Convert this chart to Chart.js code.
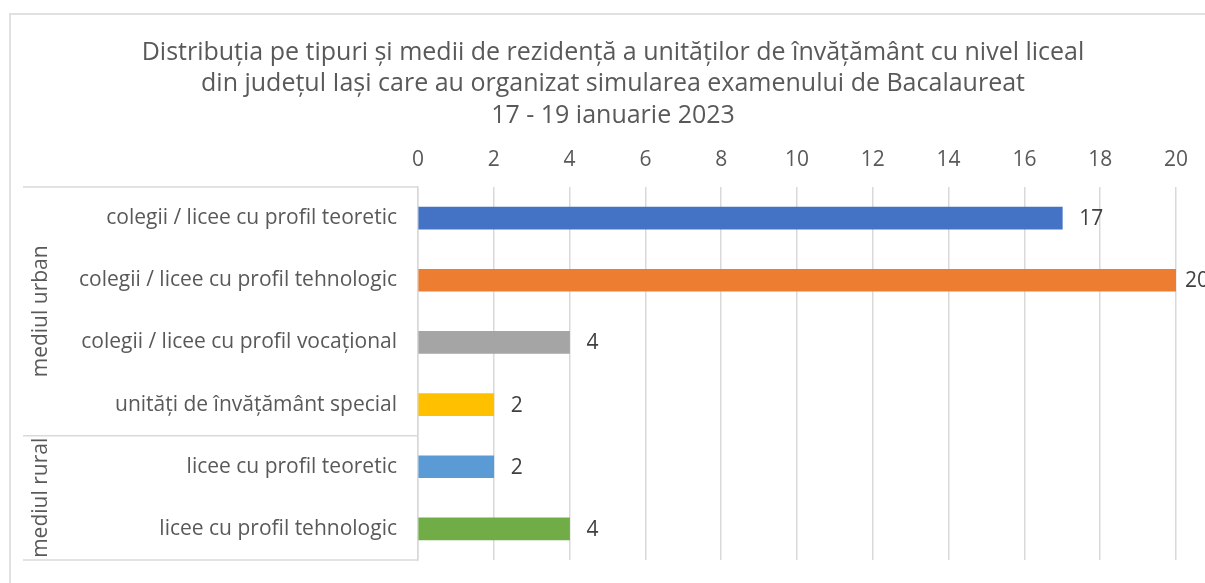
<!DOCTYPE html>
<html>
<head>
<meta charset="utf-8">
<script src="https://cdn.jsdelivr.net/npm/chart.js@4.4.1/dist/chart.umd.min.js"></script>
<style>
    body { margin: 0; background: #fff; overflow: hidden; width: 1205px; height: 583px; position: relative; }
    #frame { position: absolute; left: 9px; top: 13px; width: 1400px; height: 800px; border: 2px solid #e0e0e0; }
    #wrap { position: absolute; left: 10px; top: 14px; width: 1206px; height: 580px; }
</style>
</head>
<body>
<div id="frame"></div>
<div id="wrap"><canvas id="chart"></canvas></div>
<script>
const titleLines = [
    'Distribuția pe tipuri și medii de rezidență a unităților de învățământ cu nivel liceal',
    'din județul Iași care au organizat simularea examenului de Bacalaureat',
    '17 - 19 ianuarie 2023'
];
const categories = [
    'colegii / licee cu profil teoretic',
    'colegii / licee cu profil tehnologic',
    'colegii / licee cu profil vocațional',
    'unități de învățământ special',
    'licee cu profil teoretic',
    'licee cu profil tehnologic'
];
const values = [17, 20, 4, 2, 2, 4];
const barColors = ['#4472C4', '#ED7D31', '#A5A5A5', '#FFC000', '#5B9BD5', '#70AD47'];
// group name + how many categories it spans
const groups = [
    { name: 'mediul urban', count: 4 },
    { name: 'mediul rural', count: 2 }
];

const FONT = '"Open Sans", "Noto Sans", sans-serif';
const GRID = '#d9d9d9';
const TEXT = '#595959';

// value labels at the end of each bar (pulled in a bit when they would leave the frame)
const valueLabels = {
    id: 'valueLabels',
    afterDatasetsDraw(chart) {
        const ctx = chart.ctx;
        const meta = chart.getDatasetMeta(0);
        ctx.save();
        ctx.font = '21px ' + FONT;
        ctx.fillStyle = '#404040';
        ctx.textAlign = 'left';
        ctx.textBaseline = 'middle';
        meta.data.forEach((bar, i) => {
            const x = Math.min(bar.x + 17, chart.chartArea.right + 9);
            ctx.fillText(String(values[i]), x, bar.y + 1);
        });
        ctx.restore();
    }
};

// multi-level category axis: group names and the separator lines
const groupAxis = {
    id: 'groupAxis',
    afterDraw(chart) {
        const ctx = chart.ctx;
        const y = chart.scales.y;
        const area = chart.chartArea;
        const half = (y.getPixelForValue(1) - y.getPixelForValue(0)) / 2;
        const x0 = 13;
        ctx.save();
        ctx.strokeStyle = GRID;
        ctx.lineWidth = 1.5;

        let start = 0;
        let topY = area.top;
        ctx.beginPath();
        ctx.moveTo(x0, topY);
        ctx.lineTo(area.left, topY);
        ctx.stroke();
        groups.forEach(g => {
            const end = start + g.count - 1;
            const bottomY = y.getPixelForValue(end) + half;
            ctx.beginPath();
            ctx.moveTo(x0, bottomY);
            ctx.lineTo(area.left, bottomY);
            ctx.stroke();

            ctx.save();
            ctx.translate(31, (topY + bottomY) / 2);
            ctx.rotate(-Math.PI / 2);
            ctx.font = '21px ' + FONT;
            ctx.fillStyle = TEXT;
            ctx.textAlign = 'center';
            ctx.textBaseline = 'middle';
            ctx.fillText(g.name, 0, 0);
            ctx.restore();

            topY = bottomY;
            start = end + 1;
        });
        ctx.restore();
    }
};

new Chart(document.getElementById('chart'), {
    type: 'bar',
    data: {
        labels: categories,
        datasets: [{
            data: values,
            backgroundColor: barColors,
            barThickness: 22
        }]
    },
    options: {
        indexAxis: 'y',
        responsive: true,
        maintainAspectRatio: false,
        animation: false,
        layout: { padding: { left: 40, right: 40, top: 0, bottom: 34 } },
        plugins: {
            legend: { display: false },
            tooltip: { enabled: false },
            title: {
                display: true,
                text: titleLines,
                color: TEXT,
                font: { family: FONT, size: 25, weight: 'normal', lineHeight: 1.26 },
                padding: { top: 23, bottom: 17 }
            }
        },
        scales: {
            x: {
                position: 'top',
                min: 0,
                max: 20,
                ticks: { stepSize: 2, color: TEXT, padding: 14.5, font: { family: FONT, size: 21 } },
                grid: { color: GRID, lineWidth: 1.5, drawTicks: false },
                border: { display: false },
                afterFit(s) { s.height = 38.5; }
            },
            y: {
                ticks: { color: TEXT, padding: 21, font: { family: FONT, size: 21 } },
                grid: { display: false, drawTicks: false },
                border: { display: true, color: GRID, width: 1.5 },
                afterFit(s) { s.width = 368; }
            }
        }
    },
    plugins: [valueLabels, groupAxis]
});
</script>
</body>
</html>
